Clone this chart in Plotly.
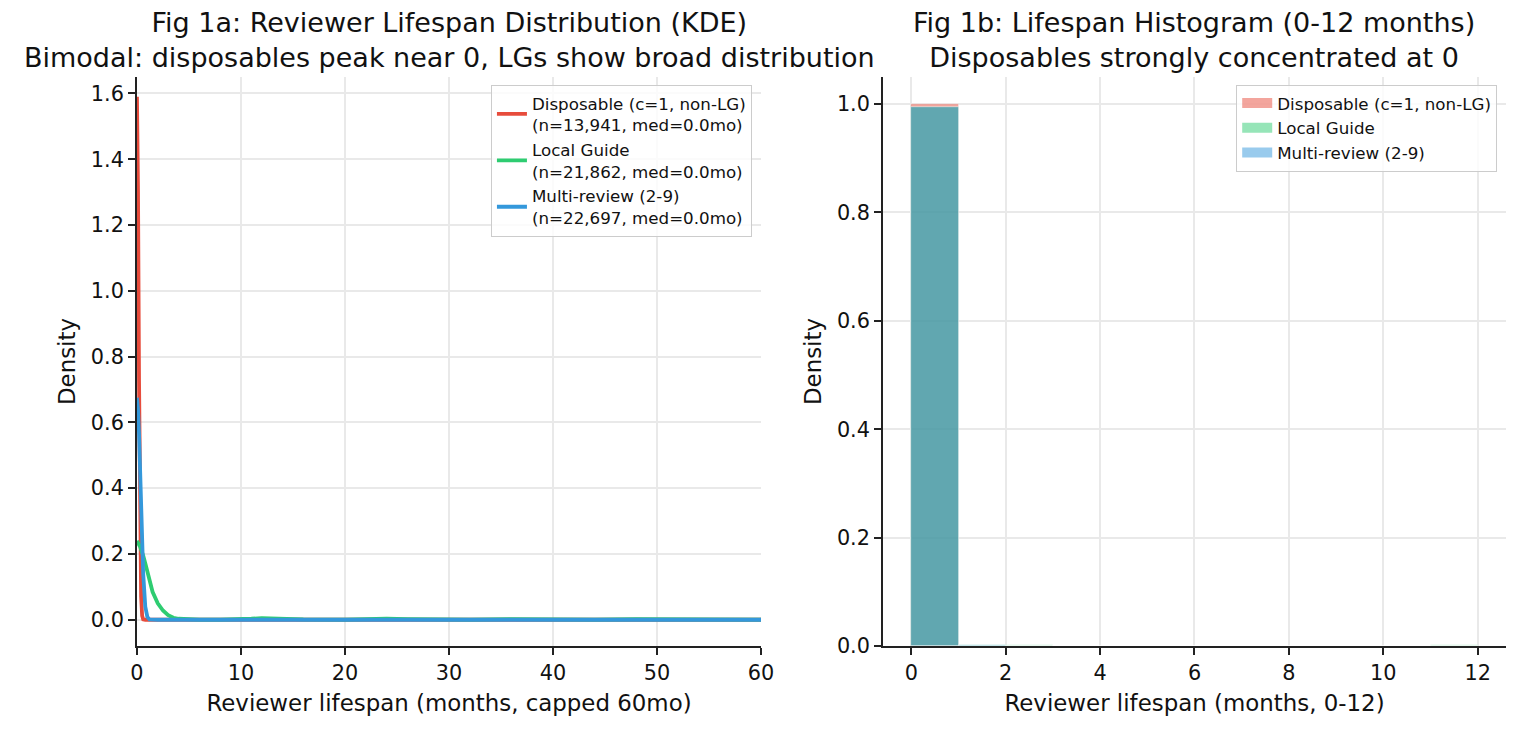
import plotly.graph_objects as go
from plotly.subplots import make_subplots

RED = "#e74c3c"
GREEN = "#2ecc71"
BLUE = "#3498db"

# KDE curves (months, density)
kde_x = [0, 0.1, 0.2, 0.3, 0.4, 0.5, 0.6, 0.8, 1.0, 1.2, 1.5, 2, 2.5, 3, 3.5, 4, 5, 6, 8,
         10, 11, 12, 13, 14, 16, 20, 22, 24, 26, 28, 32, 36, 38, 40, 44, 48, 50, 52, 56, 60]
kde_disposable = [1.59, 1.307, 0.727, 0.275, 0.070, 0.012, 0.001, 0, 0, 0, 0, 0, 0, 0, 0, 0, 0, 0, 0,
                  0, 0.0005, 0.001, 0.0005, 0, 0, 0, 0.0005, 0.001, 0.0005, 0, 0, 0, 0, 0, 0, 0, 0, 0, 0, 0]
kde_local_guide = [0.24, 0.236, 0.228, 0.222, 0.214, 0.205, 0.195, 0.172, 0.145, 0.12, 0.085, 0.05,
                   0.028, 0.014, 0.006, 0.003, 0.001, 0.0005, 0.0005, 0.001, 0.003, 0.005, 0.004,
                   0.002, 0.001, 0.0005, 0.002, 0.003, 0.002, 0.001, 0.0005, 0.002, 0.001, 0.0005,
                   0.0005, 0.0015, 0.001, 0.0005, 0.0005, 0.0005]
kde_multi = [0.675, 0.64, 0.566, 0.45, 0.337, 0.23, 0.14, 0.04, 0.0085, 0.001, 0, 0, 0, 0, 0, 0, 0, 0, 0,
             0, 0.001, 0.002, 0.001, 0, 0, 0, 0.001, 0.002, 0.001, 0, 0, 0.001, 0, 0, 0, 0.001, 0, 0, 0, 0]

# Histogram, 1-month bins over 0-12 months (density)
hist_bins = [0.5, 1.5, 2.5, 3.5, 4.5, 5.5, 6.5, 7.5, 8.5, 9.5, 10.5, 11.5]
hist_disposable = [1.0, 0, 0, 0, 0, 0, 0, 0, 0, 0, 0, 0]
hist_local_guide = [0.994, 0.001, 0.001, 0.0005, 0.0005, 0.0005, 0.0005, 0.0005, 0.0005, 0.0005, 0.0005, 0.001]
hist_multi = [0.995, 0.001, 0.0005, 0.0005, 0.0005, 0.0005, 0.0005, 0.0005, 0.0005, 0.0005, 0.0005, 0.0005]

kde_names = ["Disposable (c=1, non-LG)<br>(n=13,941, med=0.0mo)",
             "Local Guide<br>(n=21,862, med=0.0mo)",
             "Multi-review (2-9)<br>(n=22,697, med=0.0mo)"]
hist_names = ["Disposable (c=1, non-LG)", "Local Guide", "Multi-review (2-9)"]

fig = make_subplots(rows=1, cols=2)

for ys, name, col in zip([kde_disposable, kde_local_guide, kde_multi], kde_names, [RED, GREEN, BLUE]):
    fig.add_trace(go.Scatter(x=kde_x, y=ys, mode="lines", name=name,
                             line=dict(color=col, width=3.8), legend="legend"), row=1, col=1)

for ys, name, col in zip([hist_disposable, hist_local_guide, hist_multi], hist_names, [RED, GREEN, BLUE]):
    fig.add_trace(go.Bar(x=hist_bins, y=ys, width=1, name=name, opacity=0.5, legendgroup=name,
                         showlegend=False,
                         marker=dict(color=col, line=dict(color="white", width=0.6))), row=1, col=2)
    # wide patch-like legend swatch, like matplotlib's
    fig.add_trace(go.Scatter(x=[None], y=[None], mode="lines", name=name, legendgroup=name,
                             opacity=0.5, line=dict(color=col, width=11), legend="legend2"),
                  row=1, col=2)

axis_common = dict(showline=True, linecolor="#222", linewidth=1.7, ticks="outside", ticklen=7,
                   tickwidth=1.7, tickcolor="#222", showgrid=True, gridcolor="#e9e9e9", gridwidth=1.6,
                   zeroline=False, mirror=False, automargin=False,
                   tickfont=dict(size=20.8, color="#111"), title_font=dict(size=22.9, color="#111"))

fig.update_xaxes(**axis_common)
fig.update_yaxes(**axis_common)

fig.update_xaxes(domain=[0.0901, 0.5007], range=[0, 60], tickvals=[0, 10, 20, 30, 40, 50, 60],
                 title_text="Reviewer lifespan (months, capped 60mo)", title_standoff=11, row=1, col=1)
fig.update_yaxes(domain=[0.115, 0.8945], range=[-0.08, 1.65],
                 tickvals=[0, 0.2, 0.4, 0.6, 0.8, 1.0, 1.2, 1.4, 1.6], tickformat=".1f",
                 title_text="Density", title_standoff=9, row=1, col=1)
fig.update_xaxes(domain=[0.5809, 0.9908], range=[-0.6, 12.6], tickvals=[0, 2, 4, 6, 8, 10, 12],
                 title_text="Reviewer lifespan (months, 0-12)", title_standoff=11, row=1, col=2)
fig.update_yaxes(domain=[0.115, 0.8945], range=[0, 1.05], tickvals=[0, 0.2, 0.4, 0.6, 0.8, 1.0],
                 tickformat=".1f", title_text="Density", title_standoff=9, row=1, col=2)

# two-line subplot titles
title_font = dict(family="DejaVu Sans", size=27, color="#111")
titles = [
    (0.2954, "Fig 1a: Reviewer Lifespan Distribution (KDE)<br>"
             "Bimodal: disposables peak near 0, LGs show broad distribution"),
    (0.7858, "Fig 1b: Lifespan Histogram (0-12 months)<br>Disposables strongly concentrated at 0"),
]
for tx, txt in titles:
    fig.add_annotation(x=tx, y=0.9452, xref="paper", yref="paper", xanchor="center", yanchor="middle",
                       showarrow=False, font=title_font, text=txt)

legend_common = dict(bgcolor="rgba(255,255,255,0.8)", bordercolor="#cccccc", borderwidth=1,
                     font=dict(size=16.7, color="#111"), xanchor="right", yanchor="top")
fig.update_layout(
    width=1520, height=730,
    margin=dict(l=0, r=0, t=0, b=0),
    paper_bgcolor="white", plot_bgcolor="white",
    font=dict(family="DejaVu Sans", color="#111"),
    barmode="overlay",
    bargap=0,
    legend=dict(x=0.4947, y=0.884, tracegroupgap=0, **legend_common),
    legend2=dict(x=0.985, y=0.884, tracegroupgap=0, **legend_common),
)

# no page margin so the 1520x730 figure fills the window exactly
fig.write_html("out.html", config={"displayModeBar": False},
               post_script="document.body.style.margin='0';")
